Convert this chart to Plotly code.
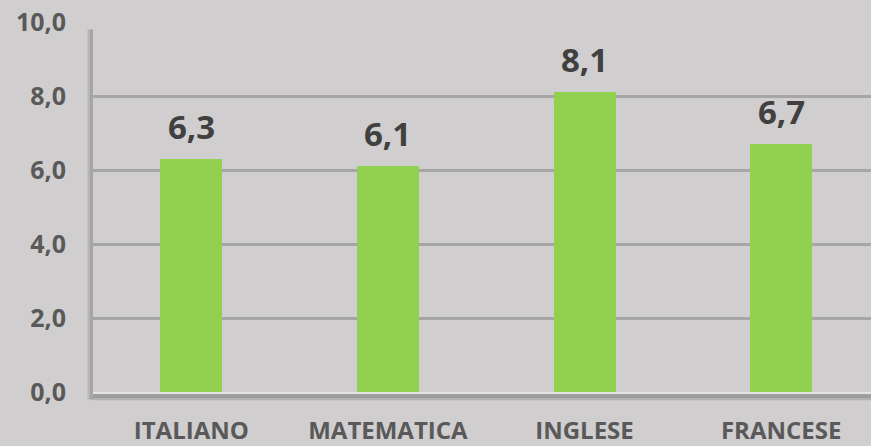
import plotly.graph_objects as go

categories = ["ITALIANO", "MATEMATICA", "INGLESE", "FRANCESE"]
values = [6.3, 6.1, 8.1, 6.7]
y_ticks = [0, 2, 4, 6, 8, 10]
value_labels = ["6,3", "6,1", "8,1", "6,7"]

BG = "#d0cece"
GRID = "#a6a6a6"
BAR = "#92d050"
FONT = "Open Sans"

fig = go.Figure()
fig.add_trace(go.Bar(
    x=categories, y=values, width=0.315,
    marker=dict(color=BAR, line=dict(width=0)),
    hoverinfo="skip",
))

for c, v, t in zip(categories, values, value_labels):
    fig.add_annotation(x=c, y=v, text=f"<b>{t}</b>", showarrow=False,
                       yanchor="bottom", yshift=8,
                       font=dict(family=FONT, size=33, color="#404040"))

# shadows of plot area (left and bottom)
fig.add_shape(type="rect", xref="paper", yref="paper", x0=0, x1=1.02, y0=-0.004, y1=-0.022,
              fillcolor="rgba(90,90,90,0.25)", line=dict(width=0), layer="below")
fig.add_shape(type="rect", xref="paper", yref="paper", x0=0, x1=1.02, y0=-0.006, y1=-0.016,
              fillcolor="rgba(90,90,90,0.25)", line=dict(width=0), layer="below")
fig.add_shape(type="rect", xref="paper", yref="paper", x0=-0.007, x1=0, y0=-0.02, y1=0.98,
              fillcolor="rgba(110,110,110,0.25)", line=dict(width=0), layer="below")
fig.add_shape(type="rect", xref="paper", yref="paper", x0=-0.004, x1=0, y0=-0.02, y1=0.98,
              fillcolor="rgba(110,110,110,0.25)", line=dict(width=0), layer="below")

fig.update_layout(
    width=871, height=446,
    margin=dict(l=93, r=0, t=22, b=52),
    paper_bgcolor=BG, plot_bgcolor=BG,
    separators=",.",
    showlegend=False,
    bargap=0,
    xaxis=dict(
        type="category", range=[-0.5, 3.457],
        showgrid=False, showline=True, linecolor="#e4e4e4", linewidth=2,
        ticks="", ticklabelstandoff=16,
        tickfont=dict(family=FONT, size=24, color="#595959", weight="bold"),
        fixedrange=True,
    ),
    yaxis=dict(
        range=[0, 10], tickvals=y_ticks, tickformat=".1f",
        showgrid=True, gridcolor=GRID, gridwidth=3,
        zeroline=False, showline=False, ticks="", ticklabelstandoff=26,
        tickfont=dict(family=FONT, size=25, color="#595959", weight="bold"),
        fixedrange=True,
    ),
)

fig.write_html("out.html", config={"displayModeBar": False},
               post_script="document.body.style.margin='0';document.body.style.background='%s';" % BG)
